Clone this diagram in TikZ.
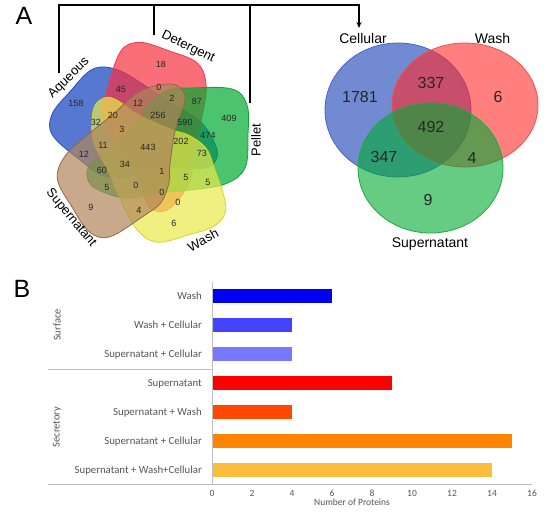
\documentclass[tikz,border=0pt]{standalone}
\usepackage{fontspec}
\setmainfont{Liberation Sans}
\newfontfamily\barfont{Carlito}
\usetikzlibrary{arrows.meta}
\definecolor{aqF}{RGB}{15,62,190}
\definecolor{aqD}{RGB}{40,80,200}
\definecolor{deF}{RGB}{248,48,62}
\definecolor{deD}{RGB}{235,60,80}
\definecolor{peF}{RGB}{0,170,48}
\definecolor{peD}{RGB}{20,160,50}
\definecolor{waF}{RGB}{234,234,76}
\definecolor{waD}{RGB}{215,215,30}
\definecolor{suF}{RGB}{176,133,90}
\definecolor{suD}{RGB}{150,105,65}
\definecolor{ceF}{RGB}{20,60,180}
\definecolor{ceD}{RGB}{70,100,200}
\definecolor{rwF}{RGB}{255,40,40}
\definecolor{rwD}{RGB}{240,80,80}
\definecolor{rsF}{RGB}{0,170,50}
\definecolor{rsD}{RGB}{30,170,60}
\definecolor{txtgray}{RGB}{85,85,85}
\definecolor{axgray}{RGB}{190,190,190}
\definecolor{bA}{RGB}{0,0,240}
\definecolor{bB}{RGB}{68,68,255}
\definecolor{bC}{RGB}{120,120,255}
\definecolor{bD}{RGB}{255,0,0}
\definecolor{bE}{RGB}{255,72,0}
\definecolor{bF}{RGB}{255,133,0}
\definecolor{bG}{RGB}{252,188,60}
% #1 angle, #2 fill, #3 draw, #4 scale, #5 extra x shift
\newcommand{\vpetal}[5]{\path[draw=#3, line width=0.8pt, fill=#2, fill opacity=0.7, shift={({148+#5},146)}, rotate=#1, scale=#4] plot[smooth cycle, tension=0.6] coordinates {(100,-11) (99,-41) (84,-57) (42,-58) (20,-56) (2,-43) (-8,-29) (-33,-1) (-56,17) (-61,29) (-53,42) (-23,52) (12,47) (42,44) (77,38) (97,22)};}
\tikzset{
  num/.style={font=\fontsize{9}{10}\selectfont, text=black!85, inner sep=0pt},
  setlab/.style={font=\fontsize{13}{14}\selectfont, inner sep=0pt},
  bignum/.style={font=\fontsize{16}{18}\selectfont, text=black!85, inner sep=0pt},
  cirlab/.style={font=\fontsize{14}{16}\selectfont, inner sep=0pt, anchor=base},
  panel/.style={font=\fontsize{25}{28}\selectfont, inner sep=0pt},
  barlab/.style={font=\barfont\fontsize{10.8}{12}\selectfont, text=txtgray, anchor=base east, inner sep=0pt},
  ticklab/.style={font=\barfont\fontsize{9.5}{11}\selectfont, text=txtgray, inner sep=0pt},
  grplab/.style={font=\barfont\fontsize{10.5}{12}\selectfont, text=txtgray, inner sep=0pt, rotate=90},
  axis/.style={draw=axgray, line width=0.8pt},
  bracket/.style={line width=2pt, line join=miter}
}
\begin{document}
\begin{tikzpicture}[x=1pt,y=-1pt]
\useasboundingbox (0,0) rectangle (550,515);
% panel letters
\node[panel] (pA) at (24,16) {A};
\node[panel] (pB) at (22,289) {B};
% bracket
\coordinate (k1) at (59,73);
\coordinate (k2) at (59,5);
\coordinate (k3) at (359,5);
\coordinate (k4) at (359,28);
\coordinate (k5) at (154,5);
\coordinate (k6) at (154,35);
\coordinate (k7) at (250,5);
\coordinate (k8) at (250,103);
\draw[bracket, -{Stealth[length=6pt,width=5pt]}] (k1) -- (k2) -- (k3) -- (k4);
\draw[bracket] (k5) -- (k6);
\draw[bracket] (k7) -- (k8);
% five-set Venn
\vpetal{140}{aqF}{aqD}{0.97}{3}
\vpetal{72}{deF}{deD}{0.97}{0}
\vpetal{0}{peF}{peD}{1}{0}
\vpetal{-72}{waF}{waD}{0.97}{0}
\vpetal{213}{suF}{suD}{0.97}{0}
\node[setlab, rotate=44] (lAq) at (69,78) {Aqueous};
\node[setlab, rotate=-26] (lDe) at (188,47) {Detergent};
\node[setlab, rotate=90] (lPe) at (256,140) {Pellet};
\node[setlab, rotate=29] (lWa) at (203,240) {Wash};
\node[setlab, rotate=-50] (lSu) at (71,218) {Supernatant};
\node[num] (n1) at (76,103) {158};
\node[num] (n2) at (121,89) {45};
\node[num] (n3) at (161,64) {18};
\node[num] (n4) at (159,87) {0};
\node[num] (n5) at (138,103) {12};
\node[num] (n6) at (172,98) {2};
\node[num] (n7) at (197,101) {87};
\node[num] (n8) at (229,118) {409};
\node[num] (n9) at (96,122) {32};
\node[num] (n10) at (113,115) {20};
\node[num] (n11) at (158,115) {256};
\node[num] (n12) at (185,122) {590};
\node[num] (n13) at (208,135) {474};
\node[num] (n14) at (122,129) {3};
\node[num] (n15) at (103,145) {11};
\node[num] (n16) at (148,147) {443};
\node[num] (n17) at (181,141) {202};
\node[num] (n18) at (202,153) {73};
\node[num] (n19) at (84,154) {12};
\node[num] (n20) at (102,170) {60};
\node[num] (n21) at (125,164) {34};
\node[num] (n22) at (162,171) {1};
\node[num] (n23) at (186,177) {5};
\node[num] (n24) at (208,182) {5};
\node[num] (n25) at (107,187) {5};
\node[num] (n26) at (136,185) {0};
\node[num] (n27) at (162,192) {0};
\node[num] (n28) at (178,202) {0};
\node[num] (n29) at (91,207) {9};
\node[num] (n30) at (139,210) {4};
\node[num] (n31) at (174,223) {6};
% three-set Venn
\path[draw=ceD, line width=0.8pt, fill=ceF, fill opacity=0.6] (398,110) ellipse [x radius=73, y radius=67];
\path[draw=rwD, line width=0.8pt, fill=rwF, fill opacity=0.6] (465,105) ellipse [x radius=73, y radius=62];
\path[draw=rsD, line width=0.8pt, fill=rsF, fill opacity=0.6] (430.5,168) ellipse [x radius=72.5, y radius=65];
\node[cirlab] (cCe) at (363,43.5) {Cellular};
\node[cirlab] (cWa) at (492.5,43.5) {Wash};
\node[cirlab] (cSu) at (430,247) {Supernatant};
\node[bignum] (m1) at (360,97) {1781};
\node[bignum] (m2) at (431,83) {337};
\node[bignum] (m3) at (498,97) {6};
\node[bignum] (m4) at (431,127) {492};
\node[bignum] (m5) at (384,157) {347};
\node[bignum] (m6) at (472,158) {4};
\node[bignum] (m7) at (428,200) {9};
% bar chart
\fill[bA] (212,289) rectangle (332,303.4);
\fill[bB] (212,317.8) rectangle (292,332.2);
\fill[bC] (212,346.7) rectangle (292,361.1);
\fill[bD] (212,375.7) rectangle (392,390.1);
\fill[bE] (212,404.9) rectangle (292,419.3);
\fill[bF] (212,434) rectangle (512,448.4);
\fill[bG] (212,462.8) rectangle (492,477.2);
\coordinate (ax1) at (212,282);
\coordinate (ax2) at (212,484);
\coordinate (ax3) at (48,484);
\coordinate (ax4) at (532,484);
\coordinate (ax5) at (48,369);
\coordinate (ax6) at (212,369);
\draw[axis] (ax1) -- (ax2);
\draw[axis] (ax3) -- (ax4);
\draw[axis] (ax5) -- (ax6);
\node[barlab] (r1) at (202,299.7) {Wash};
\node[barlab] (r2) at (202,328.5) {Wash + Cellular};
\node[barlab] (r3) at (202,357.4) {Supernatant + Cellular};
\node[barlab] (r4) at (202,386.4) {Supernatant};
\node[barlab] (r5) at (202,415.6) {Supernatant + Wash};
\node[barlab] (r6) at (202,444.7) {Supernatant + Cellular};
\node[barlab] (r7) at (202,473.5) {Supernatant + Wash+Cellular};
\foreach \v in {0,2,...,16} {\node[ticklab] (t\v) at ({212+20*\v},493) {\v};}
\node[ticklab] (xt) at (352,502) {Number of Proteins};
\node[grplab] (gS) at (57,325) {Surface};
\node[grplab] (gR) at (57,427) {Secretory};
\end{tikzpicture}
\end{document}
